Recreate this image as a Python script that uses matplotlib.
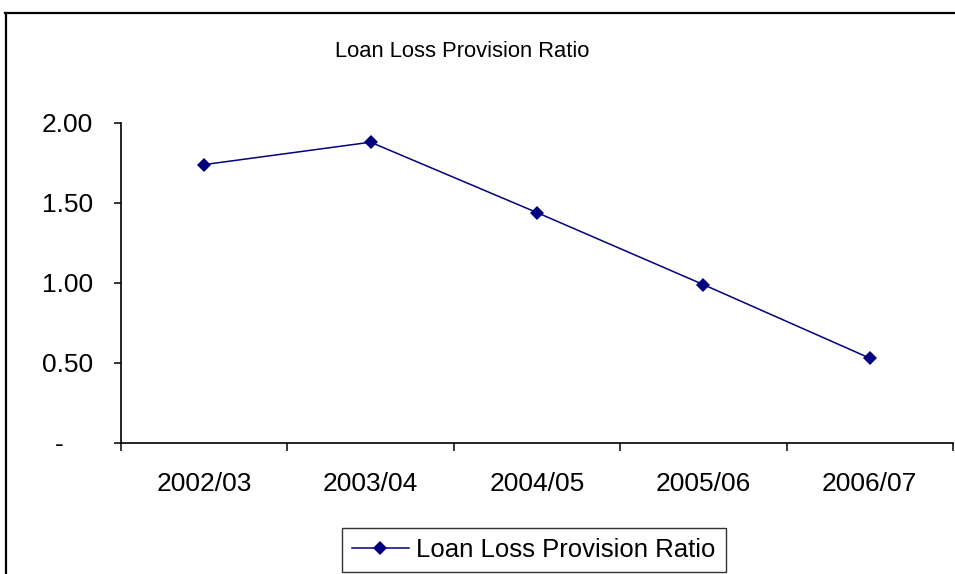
import matplotlib
matplotlib.use("Agg")
import matplotlib.pyplot as plt
from matplotlib.lines import Line2D
from matplotlib.ticker import FixedLocator, NullFormatter

categories = ["2002/03", "2003/04", "2004/05", "2005/06", "2006/07"]
values = [1.74, 1.88, 1.44, 0.99, 0.53]
y_ticks = [0, 0.5, 1.0, 1.5, 2.0]
y_labels = ["-    ", "0.50", "1.00", "1.50", "2.00"]
series_name = "Loan Loss Provision Ratio"
title = "Loan Loss Provision Ratio"

W, H = 955, 574
fig = plt.figure(figsize=(W / 100, H / 100), dpi=100)
plt.rcParams['font.family'] = ['Liberation Sans', 'DejaVu Sans']

ax = fig.add_axes([121 / W, 1 - 443 / H, (953 - 121) / W, (443 - 123) / H])
x = list(range(len(categories)))
ax.plot(x, values, color='#000080', lw=1.1, marker='D', markersize=7,
        markeredgewidth=0, label=series_name, clip_on=False)

ax.set_xlim(-0.5, len(categories) - 0.5)
ax.set_ylim(0, 2.0)
ax.xaxis.set_major_locator(FixedLocator([i - 0.5 for i in range(len(categories) + 1)]))
ax.xaxis.set_major_formatter(NullFormatter())
ax.set_xticks(x, minor=True)
ax.set_xticklabels(categories, minor=True)
ax.tick_params(axis='x', which='major', length=6, width=1.1, direction='out', color='black')
ax.tick_params(axis='x', which='minor', length=0, pad=21, labelsize=19)
ax.set_yticks(y_ticks)
ax.set_yticklabels(y_labels)
ax.tick_params(axis='y', length=5, width=1.1, direction='out', pad=15, labelsize=19)
for s in ['top', 'right']:
    ax.spines[s].set_visible(False)
for s in ['left', 'bottom']:
    ax.spines[s].set_linewidth(1.2)
    ax.spines[s].set_color('black')

fig.text(462 / W, 1 - 57 / H, title, ha='center', va='baseline', fontsize=15.8,
         family=['Liberation Sans', 'DejaVu Sans'])

# figure border (Excel chart area)
fig.add_artist(Line2D([5 / W, 1.0], [1 - 12.5 / H, 1 - 12.5 / H], color='black', lw=1.6,
                      transform=fig.transFigure))
fig.add_artist(Line2D([5.5 / W, 5.5 / W], [0, 1 - 12.5 / H], color='black', lw=1.6,
                      transform=fig.transFigure))

leg = fig.legend(loc='center', bbox_to_anchor=(534 / W, 1 - 550 / H), fontsize=18.5,
                 frameon=True, fancybox=False, edgecolor='black', handlelength=2.2,
                 handletextpad=0.3, borderpad=0.4, borderaxespad=0)
leg.get_frame().set_linewidth(1.0)

fig.savefig("out.png", dpi=100)
